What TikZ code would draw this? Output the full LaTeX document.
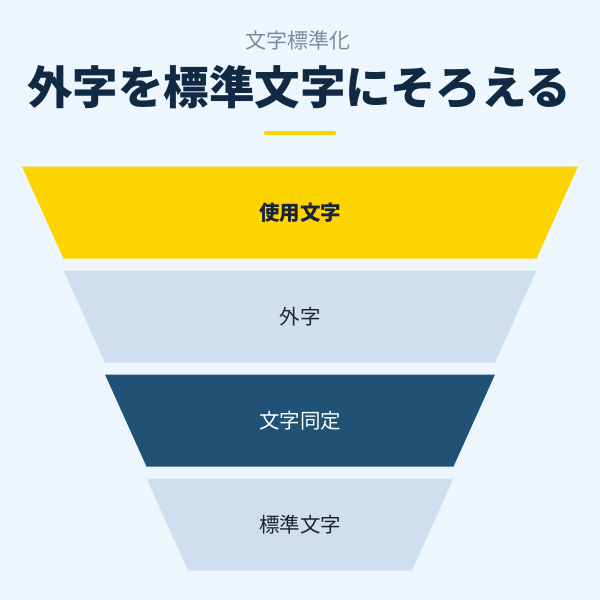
\documentclass[tikz,border=0pt]{standalone}
\usepackage{fontspec}
\setmainfont{Noto Sans CJK JP}
\definecolor{bg}{HTML}{EEF6FD}
\definecolor{ttl}{HTML}{102A43}
\definecolor{sub}{HTML}{7B8C9C}
\definecolor{yel}{HTML}{FDD400}
\definecolor{lite}{HTML}{CFDFEF}
\definecolor{dark}{HTML}{1F5275}
\definecolor{ink}{HTML}{1A2433}
\tikzset{
  lbl/.style={font=\fontsize{20.5}{24}\selectfont, inner sep=0pt},
}
\begin{document}
\begin{tikzpicture}[x=1pt,y=-1pt]
\fill[bg] (0,0) rectangle (600,600);
\useasboundingbox (0,0) rectangle (600,600);
\node[font=\fontsize{21}{24}\selectfont, text=sub, inner sep=0pt] (sub) at (298,40) {文字標準化};
\node[font=\fontsize{45.5}{50}\selectfont\bfseries, text=ttl, inner sep=0pt] (title) at (299,87) {外字を標準文字にそろえる};
\coordinate (ul) at (266,133);
\coordinate (ur) at (334,133);
\draw[yel, line width=4.5pt, line cap=round] (ul) -- (ur);
% funnel
\fill[yel]  (22,166.5) -- (578,166.5) -- (536.5,258.5) -- (63.5,258.5) -- cycle;
\fill[lite] (63.5,270.5) -- (536.5,270.5) -- (495,362.5) -- (105,362.5) -- cycle;
\fill[dark] (105,374.5) -- (495,374.5) -- (453.5,466.5) -- (146.5,466.5) -- cycle;
\fill[lite] (146.5,478.5) -- (453.5,478.5) -- (412,570.5) -- (188,570.5) -- cycle;
\node[lbl, text=ink, font=\fontsize{20.5}{24}\selectfont\bfseries] (l1) at (300,212.5) {使用文字};
\node[lbl, text=ink] (l2) at (300,316.5) {外字};
\node[lbl, text=white] (l3) at (300,420.5) {文字同定};
\node[lbl, text=ink] (l4) at (300,524.5) {標準文字};
\end{tikzpicture}
\end{document}
